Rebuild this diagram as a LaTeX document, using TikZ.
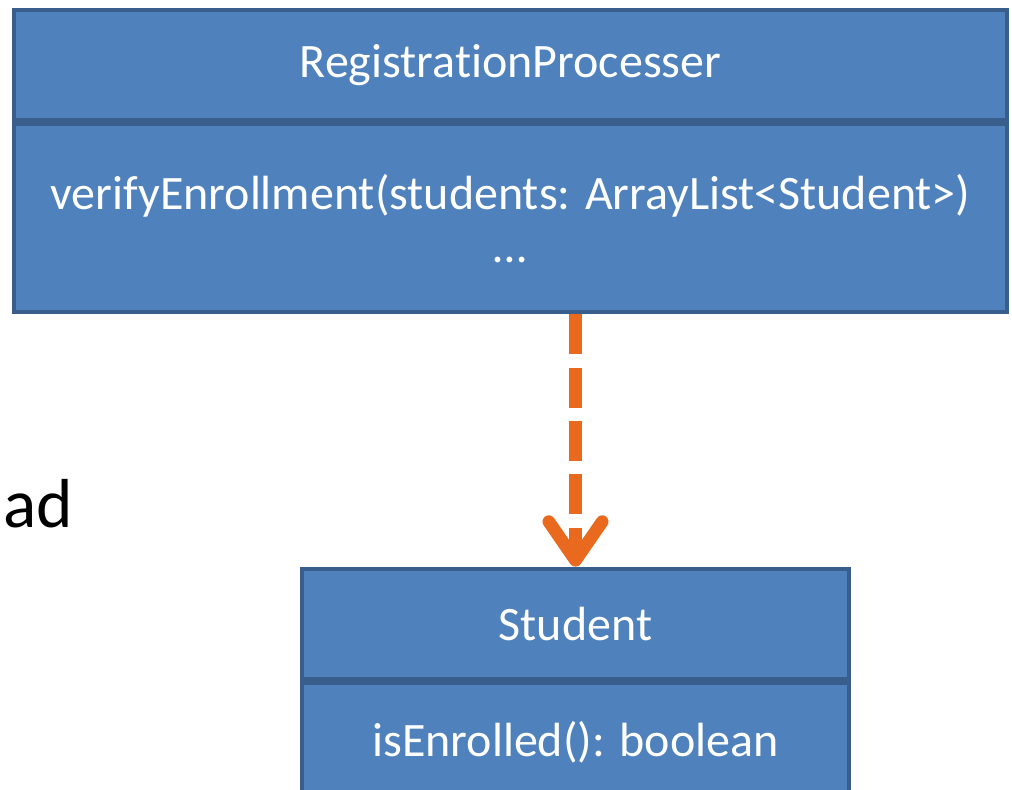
\documentclass[tikz,border=0pt]{standalone}
\usepackage{fontspec}
\setmainfont{Carlito}[Ligatures=NoCommon]
\usetikzlibrary{arrows.meta}
\definecolor{umlfill}{RGB}{79,129,189}
\definecolor{umledge}{RGB}{58,94,140}
\definecolor{deporange}{RGB}{233,106,31}
\tikzset{
  classpart/.style={draw=umledge,fill=umlfill,line width=3pt,text=white,
    font=\fontsize{36}{48}\selectfont,align=center,inner sep=0pt},
  dependency/.style={draw=deporange,line width=9.5pt,dash pattern=on 30pt off 10pt,
    -{Straight Barb[length=29pt,width=40pt,round]}},
}
\begin{document}
\begin{tikzpicture}[x=0.75pt,y=-0.75pt]
      \useasboundingbox (0,0) rectangle (1012,789);
      \clip (0,0) rectangle (1012,789);
      % registration class
      \node[classpart,minimum width=744.75pt,minimum height=83pt] (rpname) at (510.5,65) {RegistrationProcesser};
      \node[classpart,minimum width=744.75pt,minimum height=141pt,anchor=north] (rpmeth) at (rpname.south) {verifyEnrollment(students: ArrayList<Student>)\\[-8pt]…};
      % student class
      \node[classpart,minimum width=410.25pt,minimum height=83pt] (stname) at (575.5,624) {Student};
      \node[classpart,minimum width=410.25pt,minimum height=88pt,anchor=north] (stmeth) at (stname.south) {isEnrolled(): boolean};
      \draw[dependency] (rpmeth.south -| stname.north) -- (stname.north);
      \node[anchor=base west,inner sep=0pt,font=\fontsize{52}{60}\selectfont] (frag) at (3,527) {ad};
    \end{tikzpicture}
\end{document}
